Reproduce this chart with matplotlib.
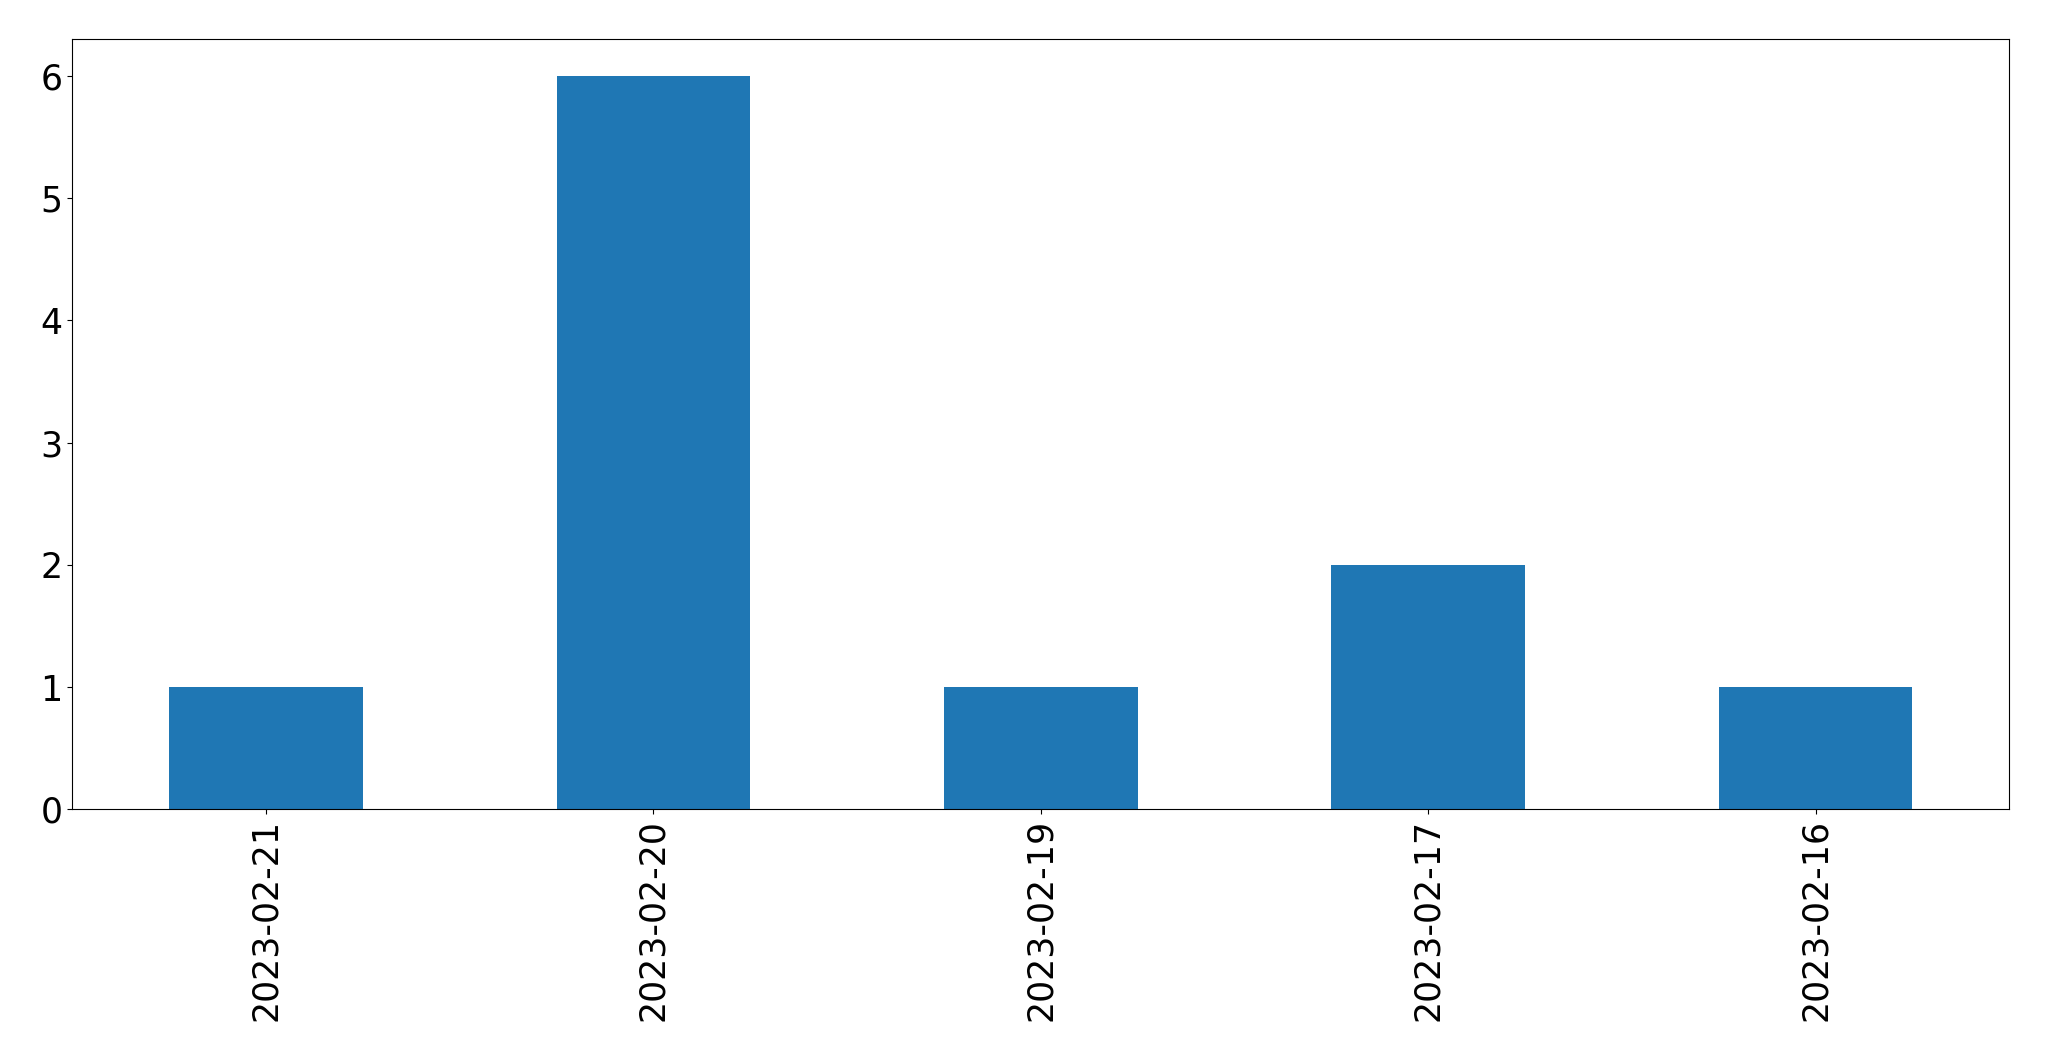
import matplotlib
matplotlib.use("Agg")
import matplotlib.pyplot as plt
import pandas as pd

# dates and counts, in the order shown
dates = ["2023-02-21", "2023-02-20", "2023-02-19", "2023-02-17", "2023-02-16"]
counts = [1, 6, 1, 2, 1]

s = pd.Series(counts, index=dates)

fig = plt.figure(figsize=(20.49, 10.61), dpi=100)
ax = fig.add_axes([72.3 / 2049, 1 - 809.3 / 1061, (2009.3 - 72.3) / 2049, (809.3 - 39.3) / 1061])
s.plot(kind="bar", ax=ax, color="#1f77b4", fontsize=25)

fig.savefig("out.png", dpi=100)
